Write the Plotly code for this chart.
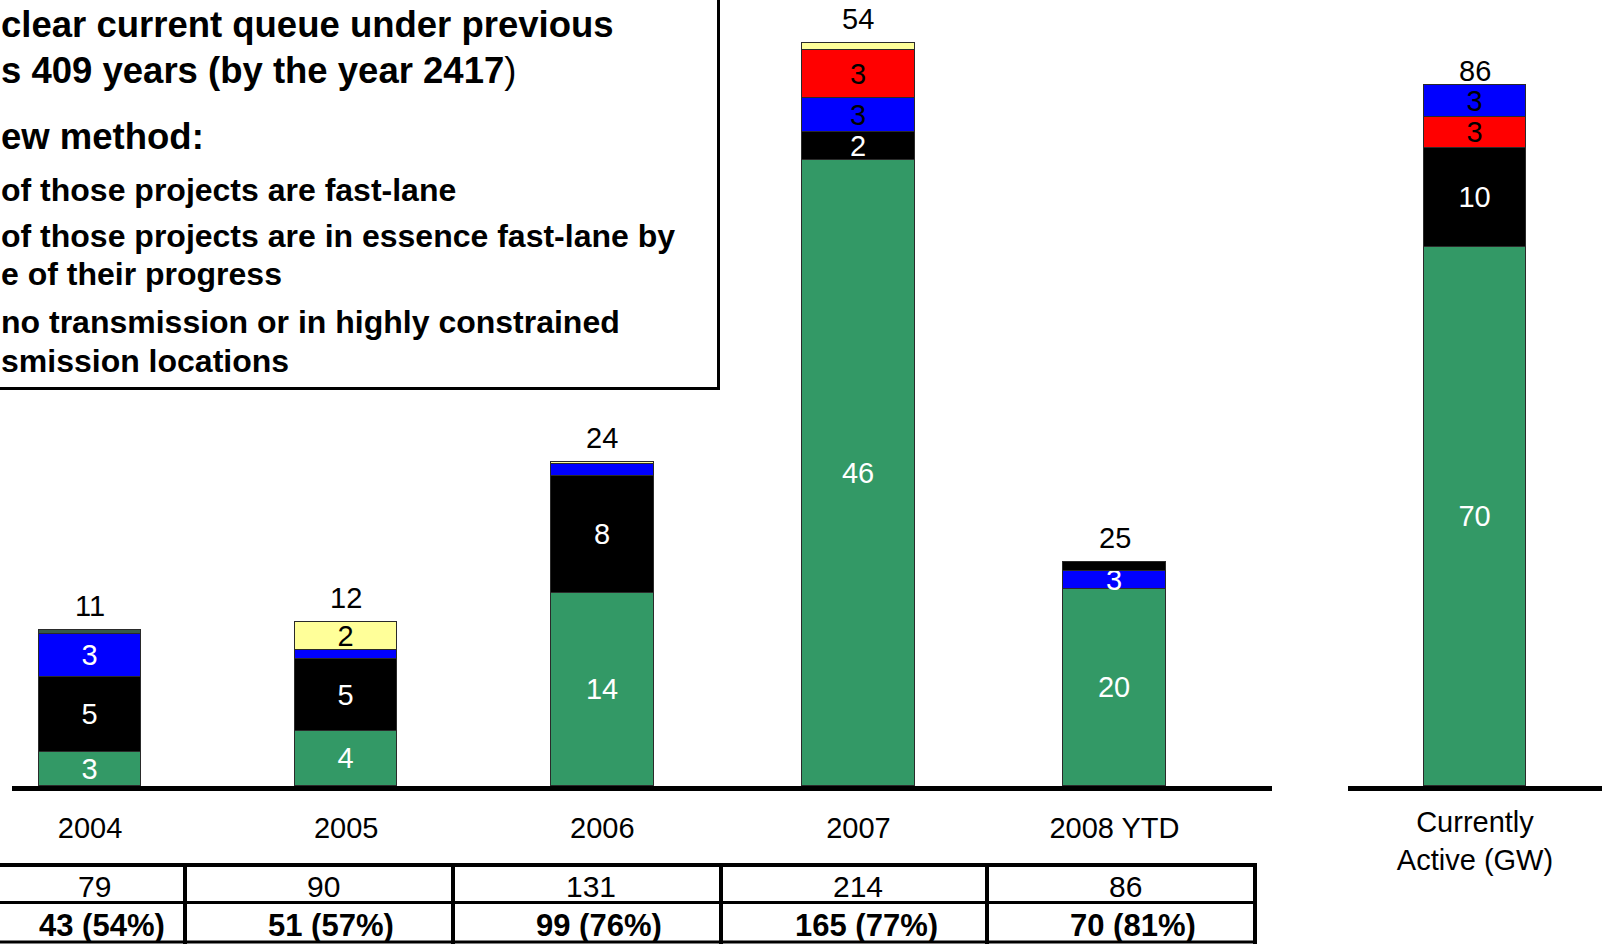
import plotly.graph_objects as go

# ---------------- data ----------------
categories = ["2004", "2005", "2006", "2007", "2008 YTD"]
right_category = ["Currently<br>Active (GW)"]

# stacked segments (bottom -> top), GW
green = [2.5, 4.0, 14.0, 45.5, 14.3]
black = [5.45, 5.2, 8.5, 2.0, None]
blue = [3.1, 0.65, 0.87, 2.5, 1.3]
red = [None, None, None, 3.5, None]
yellow = [None, 2.1, 0.15, 0.5, None]
black_top = [None, None, None, None, 0.7]
slate_top = [0.3, None, None, None, None]

green_labels = ["3", "4", "14", "46", "20"]
black_labels = ["5", "5", "8", "2", ""]
blue_labels = ["3", "", "", "3", "3"]
red_labels = ["", "", "", "3", ""]
yellow_labels = ["", "2", "", "", ""]
total_labels = ["11", "12", "24", "54", "25"]

current_green = [66.0]
current_black = [12.1]
current_red = [3.8]
current_blue = [4.0]
current_labels = {"green": ["70"], "black": ["10"], "red": ["3"], "blue": ["3"]}
current_total_label = ["86"]

table_total = ["79", "90", "131", "214", "86"]
table_fast = ["43 (54%)", "51 (57%)", "99 (76%)", "165 (77%)", "70 (81%)"]

text_lines = [
    ("<b>clear current queue under previous</b>", 36.5),
    ("<b>s 409 years (by the year 2417</b>)", 36.5),
    ("<b>ew method:</b>", 36.5),
    ("<b>of those projects are fast-lane</b>", 32),
    ("<b>of those projects are in essence fast-lane by</b>", 32),
    ("<b>e of their progress</b>", 32),
    ("<b>no transmission or in highly constrained</b>", 32),
    ("<b>smission locations</b>", 32),
]

# ---------------- styling / layout constants ----------------
W, H = 1610, 944
FONT = "Liberation Sans, Arial, Helvetica, sans-serif"
C_GREEN, C_BLACK, C_BLUE, C_RED, C_YELLOW, C_SLATE = (
    "#339966", "#000000", "#0000FF", "#FF0000", "#FFFF99", "#35594A")
LINE = dict(color="#2a2a2a", width=1)
BAR_W = [0.40, 0.40, 0.40, 0.44, 0.40]
LBL = 29


def px(x):
    return x / W


def py(y):
    return 1 - y / H


BASE_PX = 786
LEFT_SCALE = 13.76   # px per unit
RIGHT_SCALE = 8.163

fig = go.Figure()


def add_bar(x, y, color, labels, tcolors, xa, ya, width):
    fig.add_trace(go.Bar(
        x=x, y=y, marker=dict(color=color, line=LINE), width=width,
        text=labels, textposition="inside", insidetextanchor="middle",
        textangle=0, textfont=dict(color=tcolors, size=LBL, family=FONT),
        xaxis=xa, yaxis=ya, showlegend=False, hoverinfo="x+y"))


add_bar(categories, green, C_GREEN, green_labels, "white", "x", "y", BAR_W)
add_bar(categories, black, C_BLACK, black_labels, "white", "x", "y", BAR_W)
add_bar(categories, blue, C_BLUE, blue_labels,
        ["white", "white", "white", "black", "white"], "x", "y", BAR_W)
add_bar(categories, red, C_RED, red_labels, "black", "x", "y", BAR_W)
add_bar(categories, yellow, C_YELLOW, yellow_labels, "black", "x", "y", BAR_W)
add_bar(categories, black_top, C_BLACK, [""] * 5, "white", "x", "y", BAR_W)
add_bar(categories, slate_top, C_SLATE, [""] * 5, "white", "x", "y", BAR_W)

add_bar(right_category, current_green, C_GREEN, current_labels["green"], "white", "x2", "y2", 0.405)
add_bar(right_category, current_black, C_BLACK, current_labels["black"], "white", "x2", "y2", 0.405)
add_bar(right_category, current_red, C_RED, current_labels["red"], "black", "x2", "y2", 0.405)
add_bar(right_category, current_blue, C_BLUE, current_labels["blue"], "black", "x2", "y2", 0.405)

annotations = []
# totals above bars (x given as category index)
for i, cat in enumerate(categories):
    segs = [green[i], black[i], blue[i], red[i], yellow[i], black_top[i], slate_top[i]]
    tot = sum(v for v in segs if v is not None)
    annotations.append(dict(x=i, y=tot, xref="x", yref="y", text=total_labels[i],
                            showarrow=False, yanchor="middle", yshift=24,
                            font=dict(size=LBL, color="black", family=FONT)))
cur_tot = current_green[0] + current_black[0] + current_red[0] + current_blue[0]
annotations.append(dict(x=0, y=cur_tot, xref="x2", yref="y2",
                        text=current_total_label[0], showarrow=False, yanchor="middle",
                        yshift=14, font=dict(size=LBL, color="black", family=FONT)))

# text box lines
line_centers = [25, 71, 136, 190, 236, 274, 322, 361]
for (txt, fs), yc in zip(text_lines, line_centers):
    annotations.append(dict(x=px(-1), y=py(yc), xref="paper", yref="paper", text=txt,
                            showarrow=False, xanchor="left", yanchor="middle",
                            font=dict(size=fs, color="black", family=FONT)))

# table text
col_centers = [90, 319, 587, 854, 1121]
for c, t1, t2 in zip(col_centers, table_total, table_fast):
    annotations.append(dict(x=px(c + 4), y=py(886), xref="paper", yref="paper", text=t1,
                            showarrow=False, xanchor="center", yanchor="middle",
                            font=dict(size=30, color="black", family=FONT)))
    annotations.append(dict(x=px(c + 12), y=py(925), xref="paper", yref="paper",
                            text="<b>" + t2 + "</b>", showarrow=False, xanchor="center",
                            yanchor="middle", font=dict(size=31, color="black", family=FONT)))

shapes = []
# text box
shapes.append(dict(type="rect", xref="paper", yref="paper", x0=px(-10), x1=px(718.5),
                   y0=py(-10), y1=py(388.5), line=dict(color="black", width=3),
                   fillcolor="rgba(0,0,0,0)"))
# table grid
for yy, lw in [(865, 4), (902.5, 3), (942, 3)]:
    shapes.append(dict(type="line", xref="paper", yref="paper", x0=px(-10), x1=px(1256),
                       y0=py(yy), y1=py(yy), line=dict(color="black", width=lw)))
for xx in [185, 453, 721, 987, 1255]:
    shapes.append(dict(type="line", xref="paper", yref="paper", x0=px(xx), x1=px(xx),
                       y0=py(863), y1=py(950), line=dict(color="black", width=4)))

y_dom = [py(BASE_PX), 1]
fig.update_layout(
    width=W, height=H, margin=dict(l=0, r=0, t=0, b=0),
    paper_bgcolor="white", plot_bgcolor="white",
    barmode="stack", bargap=0,
    uniformtext=dict(minsize=LBL, mode="show"),
    font=dict(family=FONT, size=LBL, color="black"),
    xaxis=dict(domain=[px(12), px(1272)], range=[-0.305, 4.615], type="category",
               showline=True, linewidth=5, linecolor="black", showgrid=False,
               ticks="", ticklabelstandoff=12, tickfont=dict(size=LBL, family=FONT),
               fixedrange=True),
    yaxis=dict(domain=y_dom, range=[0, BASE_PX / LEFT_SCALE], visible=False,
               showgrid=False, zeroline=False, fixedrange=True),
    xaxis2=dict(domain=[px(1348), px(1602)], range=[-0.5, 0.5], type="category",
                anchor="y2", showline=True, linewidth=5, linecolor="black",
                showgrid=False, ticks="", ticklabelstandoff=6,
                tickfont=dict(size=LBL, family=FONT), fixedrange=True),
    yaxis2=dict(domain=y_dom, range=[0, BASE_PX / RIGHT_SCALE], visible=False,
                anchor="x2", showgrid=False, zeroline=False, fixedrange=True),
    annotations=annotations, shapes=shapes,
)

fig.write_html("out.html")
